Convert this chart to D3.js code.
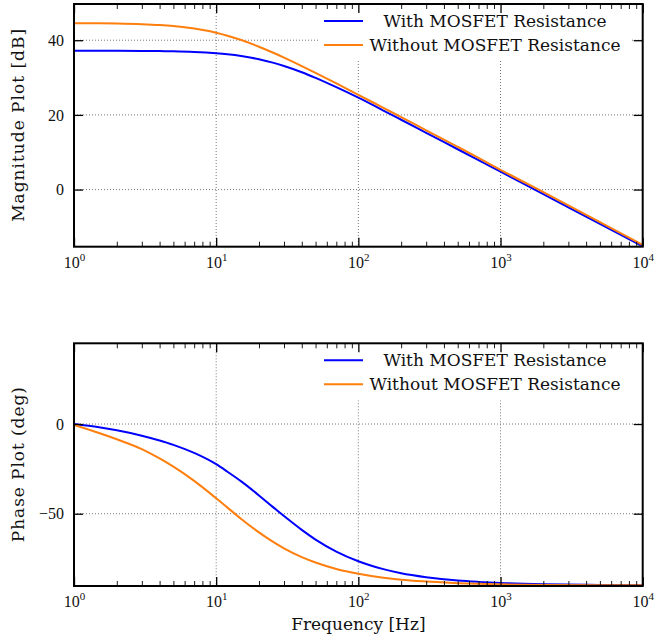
<!DOCTYPE html>
<html lang="en">
<head>
<meta charset="UTF-8" />
<title>Bode plot</title>
<script src="https://d3js.org/d3.v7.min.js"></script>
<style>
  body { margin: 0; background: #fff; }
  .curve { fill: none; stroke-width: 2; }
  .grid line { stroke: #777; stroke-dasharray: 1,2; stroke-width: 1; }
  text { font-family: "DejaVu Serif", serif; fill: #111; }
  .tick text { font-family: "Liberation Serif", serif; font-size: 16px; fill: #111; }
  .major line { stroke: #000; stroke-width: 1.3; }
  .minor line { stroke: #000; stroke-width: 0.9; }
</style>
</head>
<body>
<script>
var width = 655, height = 640;

// frequency points (Hz)
var freqs = [1, 1.5, 2, 3, 4, 5, 7, 10, 12, 15, 20, 25, 30, 40, 50, 70, 100, 150, 200, 300, 500, 700, 1000, 2000, 5000, 10000];

// magnitude (dB)
var magWith    = [37.2, 37.19, 37.17, 37.13, 37.08, 37.02, 36.85, 36.5, 36.23, 35.77, 34.9, 34.0, 33.1, 31.43, 29.92, 27.42, 24.6, 21.17, 18.7, 15.2, 10.8, 7.9, 4.8, -1.2, -9.2, -15.2];
var magWithout = [44.56, 44.52, 44.46, 44.29, 44.06, 43.78, 43.12, 42.0, 41.2, 40.04, 38.26, 36.7, 35.34, 33.07, 31.24, 28.42, 25.38, 21.88, 19.4, 15.87, 11.45, 8.5, 5.3, -0.7, -8.7, -14.8];

// phase (deg)
var phaseWith    = [0, -1.8, -3.5, -6.5, -9.2, -11.6, -16.1, -22.4, -26.6, -32.0, -39.8, -46.2, -51.3, -59.0, -64.4, -71.1, -76.5, -80.9, -83.2, -85.4, -87.25, -88.0, -88.6, -89.3, -89.7, -89.9];
var phaseWithout = [-0.5, -5, -8.5, -14, -19.2, -23.8, -31.7, -41.4, -46.6, -52.9, -60.4, -65.6, -69.3, -74.2, -77.2, -80.8, -83.5, -85.7, -86.8, -87.8, -88.7, -89.1, -89.35, -89.7, -89.9, -89.95];

var seriesNames = ["With MOSFET Resistance", "Without MOSFET Resistance"];
var seriesColors = ["#0000ff", "#ff7f0e"];

var decades = [1, 10, 100, 1000, 10000];
var magTicks = [0, 20, 40];
var phaseTicks = [-50, 0];

var left = 74, right = 642.7;

var svg = d3.select("body").append("svg").attr("width", width).attr("height", height);

var x = d3.scaleLog().domain([1, 10000]).range([left, right]);
var minor = x.ticks().filter(function(v) { return decades.indexOf(v) < 0; });

var panels = [
  { top: 4, bottom: 246.7, domain: [-15.3, 49.7], ticks: magTicks,
    label: "Magnitude Plot [dB]", labelLen: 193, data: [magWith, magWithout] },
  { top: 343.3, bottom: 586, domain: [-90.3, 45], ticks: phaseTicks,
    label: "Phase Plot (deg)", labelLen: 155, data: [phaseWith, phaseWithout] }
];

panels.forEach(function(p, k) {
  var y = d3.scaleLinear().domain(p.domain).range([p.bottom, p.top]);
  var g = svg.append("g");

  g.append("clipPath").attr("id", "clip" + k).append("rect")
    .attr("x", left).attr("y", p.top)
    .attr("width", right - left).attr("height", p.bottom - p.top);

  // grid
  var grid = g.append("g").attr("class", "grid");
  grid.selectAll(".gx").data(decades.slice(1, -1)).enter().append("line")
    .attr("x1", x).attr("x2", x).attr("y1", p.top).attr("y2", p.bottom);
  grid.selectAll(".gy").data(p.ticks).enter().append("line")
    .attr("x1", left).attr("x2", right).attr("y1", y).attr("y2", y);

  // curves
  var line = d3.line()
    .x(function(d, i) { return x(freqs[i]); })
    .y(function(d) { return y(d); })
    .curve(d3.curveMonotoneX);

  g.append("g").attr("clip-path", "url(#clip" + k + ")")
    .selectAll("path").data(p.data).enter().append("path")
    .attr("class", "curve")
    .attr("stroke", function(d, i) { return seriesColors[i]; })
    .attr("d", line);

  // legend
  var lg = g.append("g");
  lg.append("rect").attr("x", 318).attr("y", p.top + 1)
    .attr("width", 314).attr("height", 56).attr("fill", "#fff");
  seriesNames.forEach(function(name, i) {
    var ly = p.top + 17 + i * 24;
    lg.append("line").attr("x1", 324).attr("x2", 363).attr("y1", ly).attr("y2", ly)
      .attr("stroke", seriesColors[i]).attr("stroke-width", 2);
    lg.append("text").attr("x", 495).attr("y", ly + 6)
      .attr("text-anchor", "middle").style("font-size", "17px").text(name);
  });

  // axes, ticks pointing inwards
  function supLabels(sel) {
    sel.selectAll(".tick text").text(null).each(function(d) {
      var t = d3.select(this);
      t.append("tspan").text("10");
      t.append("tspan").attr("dy", "-7").style("font-size", "11px")
        .text(Math.round(Math.log10(d)));
    });
  }

  var bx = g.append("g").attr("class", "major").attr("transform", "translate(0," + p.bottom + ")")
    .call(d3.axisBottom(x).tickValues(decades).tickSizeInner(-9).tickSizeOuter(0).tickPadding(9.5));
  bx.call(supLabels);
  g.append("g").attr("class", "minor").attr("transform", "translate(0," + p.bottom + ")")
    .call(d3.axisBottom(x).tickValues(minor).tickSizeInner(-5).tickSizeOuter(0).tickFormat(""));
  g.append("g").attr("class", "major").attr("transform", "translate(0," + p.top + ")")
    .call(d3.axisTop(x).tickValues(decades).tickSizeInner(-9).tickSizeOuter(0).tickFormat(""));
  g.append("g").attr("class", "minor").attr("transform", "translate(0," + p.top + ")")
    .call(d3.axisTop(x).tickValues(minor).tickSizeInner(-5).tickSizeOuter(0).tickFormat(""));
  g.append("g").attr("class", "major").attr("transform", "translate(" + left + ",0)")
    .call(d3.axisLeft(y).tickValues(p.ticks).tickSizeInner(-9).tickSizeOuter(0).tickPadding(10));
  g.append("g").attr("class", "major").attr("transform", "translate(" + right + ",0)")
    .call(d3.axisRight(y).tickValues(p.ticks).tickSizeInner(-9).tickSizeOuter(0).tickFormat(""));
  g.selectAll(".domain").remove();

  // frame
  g.append("rect").attr("x", left).attr("y", p.top)
    .attr("width", right - left).attr("height", p.bottom - p.top)
    .attr("fill", "none").attr("stroke", "#000").attr("stroke-width", 2);

  // y label
  g.append("text")
    .attr("transform", "translate(24," + ((p.top + p.bottom) / 2) + ") rotate(-90)")
    .attr("text-anchor", "middle").style("font-size", "17px")
    .attr("textLength", p.labelLen).attr("lengthAdjust", "spacing")
    .text(p.label);
});

svg.append("text").attr("x", (left + right) / 2).attr("y", 630)
  .attr("text-anchor", "middle").style("font-size", "17px")
  .text("Frequency [Hz]");
</script>
</body>
</html>
